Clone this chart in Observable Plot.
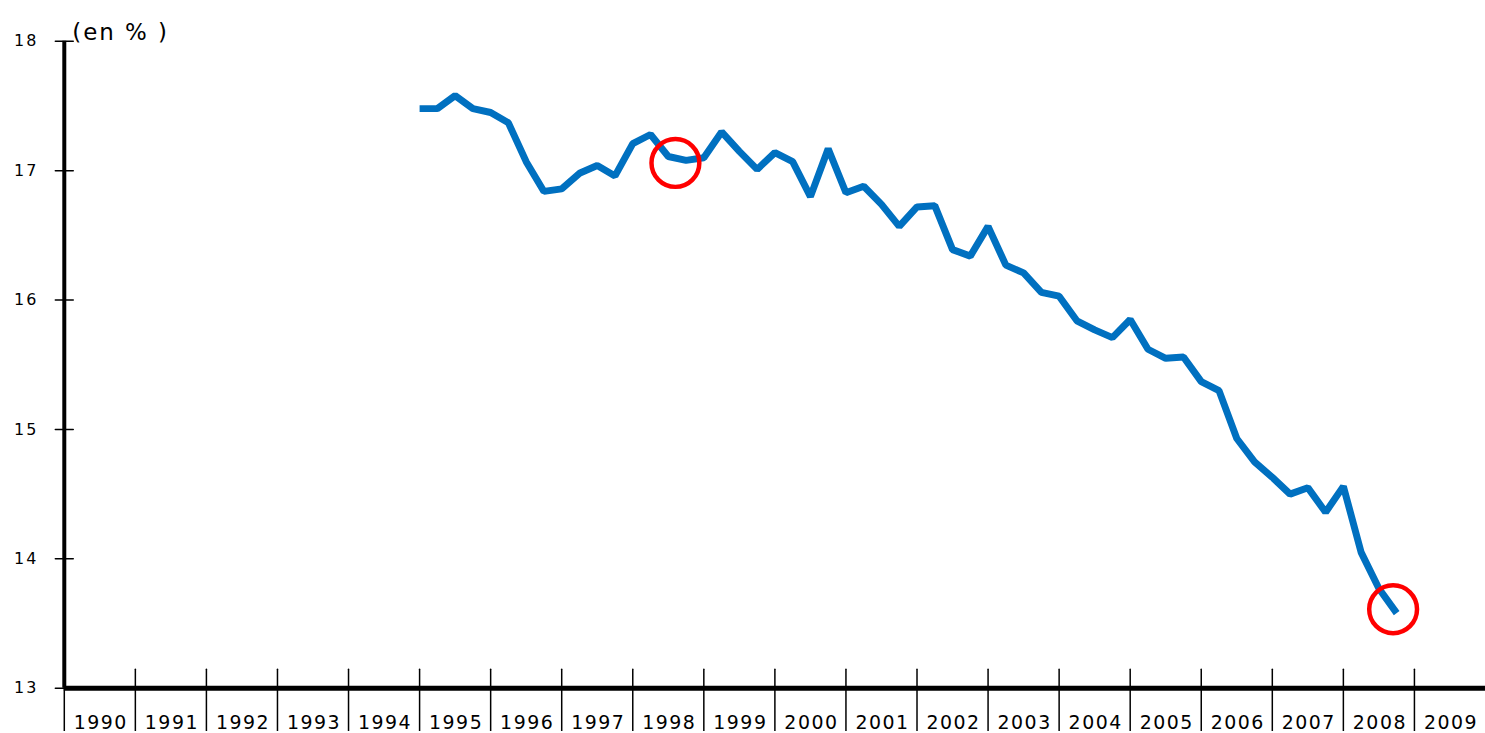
<!DOCTYPE html>
<html><head><meta charset="utf-8">
<script src="https://cdn.jsdelivr.net/npm/d3@7"></script>
<script src="https://cdn.jsdelivr.net/npm/@observablehq/plot@0.6"></script>
<style>html,body{margin:0;padding:0;background:#fff;overflow:hidden}</style>
</head><body><div id="chart"></div>
<script>
// Quarterly series, 1995Q1 .. 2008Q4 (en %)
const firstYear = 1995;
const values = [
  17.48, 17.48, 17.58, 17.48,
  17.45, 17.37, 17.07, 16.84,
  16.86, 16.98, 17.04, 16.96,
  17.21, 17.28, 17.11, 17.08,
  17.10, 17.30, 17.15, 17.01,
  17.14, 17.07, 16.80, 17.17,
  16.83, 16.88, 16.74, 16.57,
  16.72, 16.73, 16.39, 16.34,
  16.57, 16.27, 16.21, 16.06,
  16.03, 15.84, 15.77, 15.71,
  15.85, 15.62, 15.55, 15.56,
  15.37, 15.30, 14.93, 14.75,
  14.63, 14.50, 14.55, 14.36,
  14.56, 14.05, 13.77, 13.58
];
const yTicks = [13, 14, 15, 16, 17, 18];
const yearLabels = [1990,1991,1992,1993,1994,1995,1996,1997,1998,1999,2000,2001,2002,2003,2004,2005,2006,2007,2008,2009];
const circleX = [1998.6, 2008.7];
const circleY = [17.06, 13.61];
const unitLabel = "(en % )";

const data = values.map((v, i) => ({t: firstYear + i / 4, v}));
const circles = circleX.map((x, i) => ({x, y: circleY[i]}));

const yearTickShape = {draw(ctx) { ctx.moveTo(0, 43); ctx.lineTo(0, -19); }};
const yTickShape = {draw(ctx) { ctx.moveTo(-9, 0); ctx.lineTo(9, 0); }};

const chart = Plot.plot({
  width: 1490, height: 733,
  marginLeft: 64, marginRight: 0, marginTop: 41, marginBottom: 43,
  x: {domain: [1990, 2010], axis: null},
  y: {domain: [13, 18], axis: null},
  style: {fontFamily: "'DejaVu Sans', sans-serif", fontSize: "14px", color: "#000", background: "#fff", overflow: "visible"},
  marks: [
    Plot.vector(yearLabels, {x: d => d, y: () => 13, shape: yearTickShape, stroke: "#000", strokeWidth: 1.5, anchor: "start"}),
    Plot.vector(yTicks, {x: () => 1990, y: d => d, shape: yTickShape, stroke: "#000", strokeWidth: 1.5, anchor: "start"}),
    Plot.ruleX([1990], {y1: 13, y2: 18, stroke: "#000", strokeWidth: 4}),
    Plot.ruleY([13], {stroke: "#000", strokeWidth: 5}),
    Plot.text(yearLabels, {x: d => d + 0.5, y: () => 13, text: d => String(d), dy: 35, dx: 1, fontSize: 19, fill: "#000", lineAnchor: "middle"}),
    Plot.text(yTicks, {x: () => 1990, y: d => d, text: d => String(d), dx: -26, textAnchor: "end", fontSize: 16, fill: "#000"}),
    Plot.text([unitLabel], {frameAnchor: "top-left", dx: 8, dy: -18, text: d => d, textAnchor: "start", fontSize: 23, fill: "#000"}),
    Plot.line(data, {x: "t", y: "v", stroke: "#0070C0", strokeWidth: 7, strokeLinejoin: "miter", strokeLinecap: "butt"}),
    Plot.dot(circles, {x: "x", y: "y", r: 24, stroke: "#FF0000", strokeWidth: 4.5, fill: "none"})
  ]
});
const spacing = {"19": "1.5px", "16": "2px", "23": "2px"};
chart.querySelectorAll("text").forEach(t => {
  const g = t.closest("[font-size]");
  const fs = (t.getAttribute("font-size") || (g && g.getAttribute("font-size")) || "").replace("px", "");
  if (spacing[fs]) t.setAttribute("letter-spacing", spacing[fs]);
});
document.getElementById("chart").appendChild(chart);
</script>
</body></html>
